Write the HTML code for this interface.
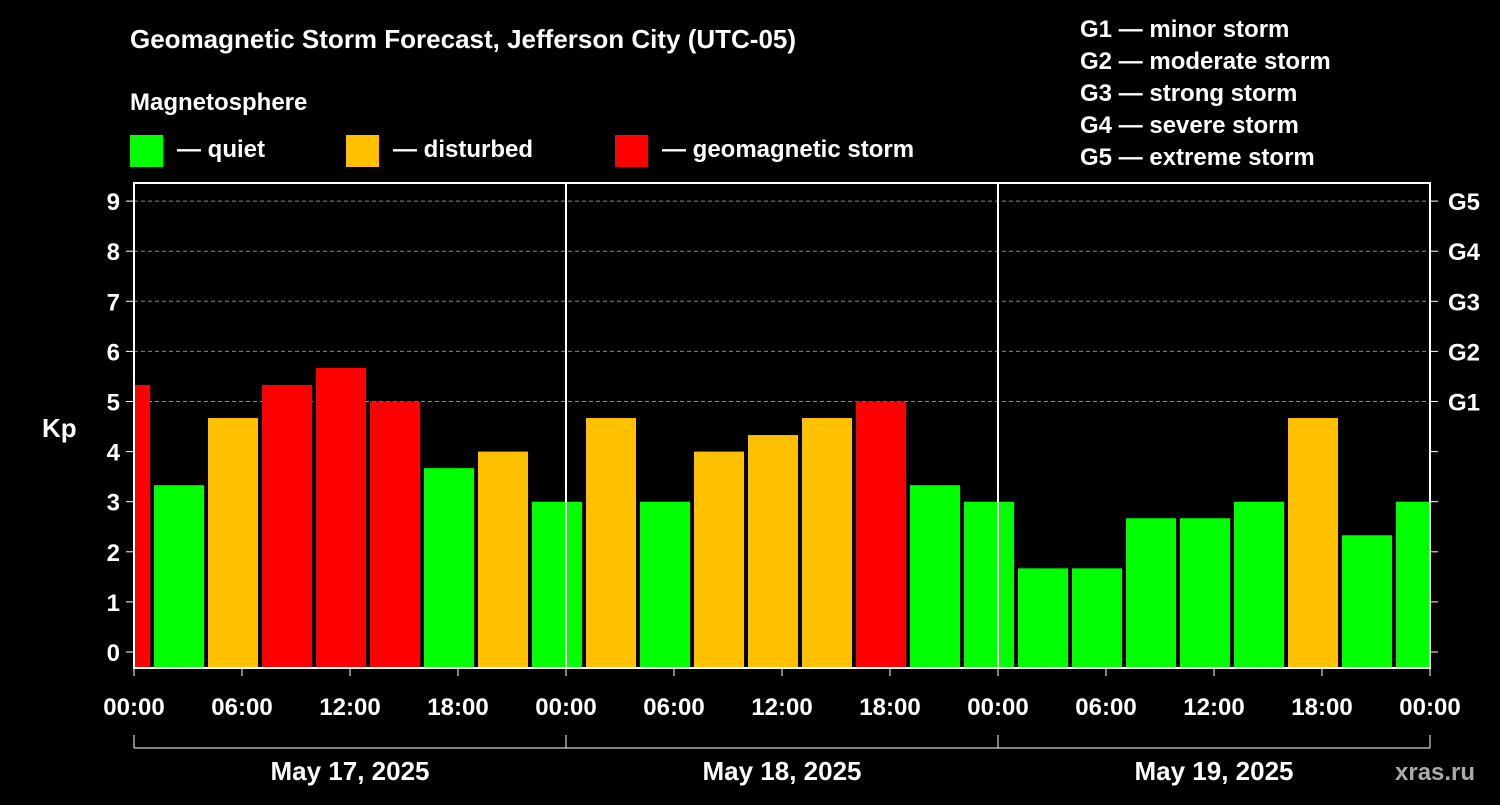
<!DOCTYPE html>
<html><head><meta charset="utf-8"><style>
body{margin:0;background:#000;width:1500px;height:800px;overflow:hidden}
svg text{font-family:"Liberation Sans",Arial,sans-serif;font-weight:bold;fill:#fff}
</style></head><body>
<svg id="c" width="1500" height="800" xmlns="http://www.w3.org/2000/svg">
<text x="130" y="48" font-size="26">Geomagnetic Storm Forecast, Jefferson City (UTC-05)</text>
<text x="130" y="110" font-size="24">Magnetosphere</text>
<g><rect x="130" y="135" width="33" height="32" fill="#00ff00"/><text x="177" y="157" font-size="24">— quiet</text></g>
<g><rect x="346" y="135" width="33" height="32" fill="#ffc000"/><text x="393" y="157" font-size="24">— disturbed</text></g>
<g><rect x="615" y="135" width="33" height="32" fill="#ff0000"/><text x="662" y="157" font-size="24">— geomagnetic storm</text></g>
<g font-size="24">
<text x="1080" y="37">G1 — minor storm</text><text x="1080" y="69">G2 — moderate storm</text><text x="1080" y="101">G3 — strong storm</text><text x="1080" y="133">G4 — severe storm</text><text x="1080" y="165">G5 — extreme storm</text></g>
<text x="42" y="437" font-size="26">Kp</text>
<text x="1395" y="780" font-size="24" fill="#aaa" style="fill:#aaa">xras.ru</text>
<g id="plot"></g>
</svg>
<script>
const values=[5.33,3.33,4.67,5.33,5.67,5.0,3.67,4.0,3.0,4.67,3.0,4.0,4.33,4.67,5.0,3.33,3.0,1.67,1.67,2.67,2.67,3.0,4.67,2.33,3.0];
const startHours=[-2,1,4,7,10,13,16,19,22,25,28,31,34,37,40,43,46,49,52,55,58,61,64,67,70];
const yTicks=[0,1,2,3,4,5,6,7,8,9];
const gLabels=["","","","","","G1","G2","G3","G4","G5"];
const xTickLabels=["00:00","06:00","12:00","18:00","00:00","06:00","12:00","18:00","00:00","06:00","12:00","18:00","00:00"];
const dayLabels=["May 17, 2025","May 18, 2025","May 19, 2025"];
const L=134,R=1430,T=183,B=668;
const x=h=>L+h*18;
const y=v=>652-v*50.1;
const NS="http://www.w3.org/2000/svg";
const g=document.getElementById('plot');
function el(t,a,txt){const e=document.createElementNS(NS,t);for(const k in a)e.setAttribute(k,a[k]);if(txt!==undefined)e.textContent=txt;g.appendChild(e);return e;}
yTicks.forEach((v,i)=>{
 if(v>=5){const l=el('line',{x1:L,x2:R,y1:y(v),y2:y(v),stroke:'#888','stroke-dasharray':'4,3','stroke-width':1});
 
 }
 const t=el('text',{x:L-14,y:y(v)+9,'font-size':24,'text-anchor':'end'},String(v));
 
 
 el('line',{x1:L-8,x2:L,y1:y(v),y2:y(v),stroke:'#fff','stroke-width':1});
 el('line',{x1:R,x2:R+8,y1:y(v),y2:y(v),stroke:'#fff','stroke-width':1});
 if(gLabels[i]){const gt=el('text',{x:R+18,y:y(v)+9,'font-size':24},gLabels[i]);
 
 }
});
values.forEach((v,i)=>{
 let x0=Math.max(x(startHours[i])+2,L),x1=Math.min(x(startHours[i]+3)-2,R);
 const c=v>=5?'#ff0000':(v>=4?'#ffc000':'#00ff00');
 const r=el('rect',{x:x0,y:y(v),width:x1-x0,height:B-y(v),fill:c});
 
 
});
[1,2].forEach(d=>{const l=el('line',{x1:x(d*24),x2:x(d*24),y1:T,y2:B,stroke:'#fff','stroke-width':2});
 
 });
el('rect',{x:L,y:T,width:R-L,height:B-T,fill:'none',stroke:'#fff','stroke-width':2});
xTickLabels.forEach((s,i)=>{
 el('line',{x1:x(i*6),x2:x(i*6),y1:B,y2:B+8,stroke:'#fff','stroke-width':1});
 const t=el('text',{x:x(i*6),y:715,'font-size':24,'text-anchor':'middle'},s);
 
 
});
el('line',{x1:L,x2:R,y1:748,y2:748,stroke:'#fff','stroke-width':1});
[0,1,2,3].forEach(d=>el('line',{x1:x(d*24),x2:x(d*24),y1:735,y2:748,stroke:'#fff','stroke-width':1}));
dayLabels.forEach((s,i)=>{const t=el('text',{x:x(i*24+12),y:780,'font-size':26,'text-anchor':'middle'},s);
 
 });
</script>
</body></html>
